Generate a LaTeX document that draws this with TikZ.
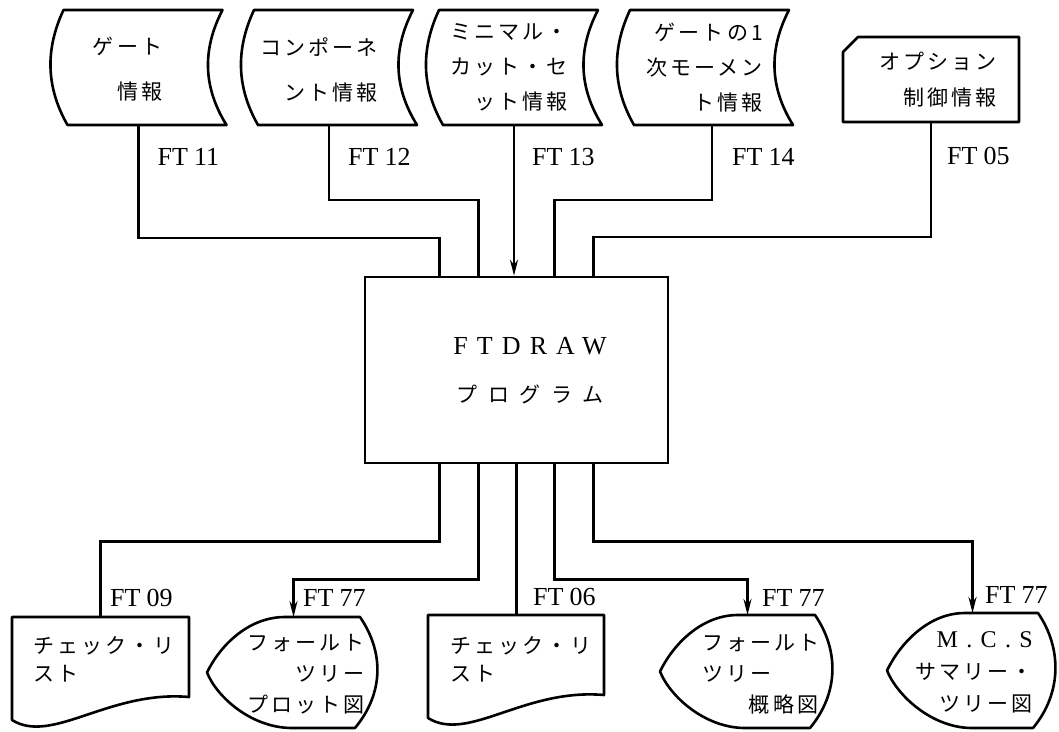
\documentclass[tikz,border=0pt]{standalone}
\usepackage{fontspec}
\setmainfont{Liberation Serif}
\newfontfamily\jpfont[LetterSpace=15]{Noto Sans CJK JP}
\newfontfamily\jpwider[LetterSpace=50]{Noto Sans CJK JP}
\newfontfamily\romwide[LetterSpace=35]{Liberation Serif}
\usetikzlibrary{arrows.meta, calc}

\begin{document}
\begin{tikzpicture}[
        x=1pt, y=-1pt,
        outline/.style={line width=2.6pt, line join=round},
        conn/.style={line width=2.4pt},
        arr/.style={conn, -{Stealth[length=16pt, width=8pt]}},
        stored/.style={minimum width=176pt, minimum height=115pt, inner sep=0pt, outer sep=0pt},
        card/.style={minimum width=176pt, minimum height=85pt, inner sep=0pt, outer sep=0pt},
        doc/.style={minimum width=177pt, minimum height=80pt, inner sep=0pt, outer sep=0pt},
        disp/.style={inner sep=0pt, outer sep=0pt},
        box/.style={draw, line width=2.6pt, minimum width=303pt, minimum height=186pt, inner sep=0pt},
        txt/.style={font=\jpfont\fontsize{21}{#1}\selectfont, inner sep=0pt},
        lbl/.style={font=\fontsize{26}{26}\selectfont, anchor=west, inner sep=0pt}
    ]
        \path[use as bounding box, fill=white] (0,0) rectangle (1059,731);

        % input files
        \node[stored] (gate)   at (138.5,67.5) {};
        \node[stored] (comp)   at (329,67.5) {};
        \node[stored] (mcut)   at (514,67.5) {};
        \node[stored] (moment) at (705,67.5) {};
        \node[card]   (opt)    at (931,79.5) {};
        \node[box]    (prog)   at (516.5,370) {};

        % output files
        \node[doc] (chk1) at (100.5,657) {};
        \node[disp, minimum width=173pt, minimum height=111pt] (plot) at (293.5,672.5) {};
        \node[doc, minimum width=176pt] (chk2) at (516,655) {};
        \node[disp, minimum width=175pt, minimum height=113pt] (sketch) at (747.5,671.5) {};
        \node[disp, minimum width=171pt, minimum height=115pt] (mcs) at (972.5,670.5) {};

        % outlines
        \foreach \n in {gate,comp,mcut,moment}
            \draw[outline] ($(\n.north west)+(13,0)$) -- ($(\n.north east)+(-4,0)$)
                .. controls ($(\n.east)+(-24,-19)$) and ($(\n.east)+(-24,19)$) .. (\n.south east)
                -- ($(\n.south west)+(17,0)$)
                .. controls ($(\n.west)+(-5,19)$) and ($(\n.west)+(-5,-19)$) .. ($(\n.north west)+(13,0)$) -- cycle;
        \draw[outline] ($(opt.north west)+(0,15)$) -- ($(opt.north west)+(15,0)$) -- (opt.north east)
            -- (opt.south east) -- (opt.south west) -- cycle;
        \foreach \n in {chk1,chk2}
            \draw[outline] ($(\n.south west)+(0,23)$) -- (\n.north west) -- (\n.north east) -- (\n.south east)
                .. controls ($(\n.south east)+(-80,-7)$) and ($(\n.south west)+(40,48)$) .. ($(\n.south west)+(0,23)$) -- cycle;
        \foreach \n in {plot,sketch,mcs}
            \draw[outline] ($(\n.north west)+(78,0)$) -- ($(\n.north east)+(-20,0)$)
                .. controls ($(\n.north east)+(4,35)$) and ($(\n.south east)+(4,-35)$) .. ($(\n.south east)+(-25,0)$)
                -- ($(\n.south west)+(85,0)$)
                .. controls ($(\n.south west)+(45,0)$) and ($(\n.west)+(10,25)$) .. (\n.west)
                .. controls ($(\n.west)+(12,-25)$) and ($(\n.north west)+(40,0)$) .. ($(\n.north west)+(78,0)$) -- cycle;

        % texts
        \node[txt=45, anchor=east, align=right] (gatetxt) at (163,69.5) {ゲ\,ー\,ト\\情\,報};
        \node[txt=45, anchor=east, align=right] (comptxt) at (378,69.5) {コンポーネ\\ント情報};
        \node[txt=35, anchor=east, align=right] (mcuttxt) at (568,67.5) {ミニマル・\\カット・セ\\ット情報};
        \node[txt=35, anchor=east, align=right] (momenttxt) at (763,67.5) {ゲートの1\\次モーメン\\ト情報};
        \node[txt=36, anchor=east, align=right] (opttxt) at (997,80) {オプション\\制御情報};
        \node[font=\fontsize{21}{48}\selectfont, align=center, inner sep=0pt] (progtxt) at (530,371)
            {{\romwide\fontsize{26}{26}\selectfont FTDRAW}\\{\jpwider プログラム}};
        \node[txt=28, anchor=west, align=left] (chk1txt) at (33,659) {チェック・リ\\スト};
        \node[txt=31, anchor=east, align=right] (plottxt) at (365,674) {フォールト\\ツリー\\プロット図};
        \node[txt=28, anchor=west, align=left] (chk2txt) at (450,659) {チェック・リ\\スト};
        \node[txt=31, anchor=west, align=left, text width=116pt] (sketchtxt) at (702,674)
            {フォールト\\ツリー\\\mbox{}\hskip0pt plus1fill 概略図};
        \node[txt=32, anchor=east, align=right] (mcstxt) at (1033,672.5)
            {{\romwide\fontsize{24}{24}\selectfont M.C.S}\\サマリー・\\ツリー図};

        % connectors
        \draw[conn] (gate.south) -- ++(0,113) -| ([xshift=-77pt]prog.north);
        \draw[conn] (comp.south) -- ++(0,75) -| ([xshift=-38pt]prog.north);
        \draw[arr]  (mcut.south) -- (mcut.south |- prog.north);
        \draw[conn] ([xshift=7pt]moment.south) -- ++(0,75) -| ([xshift=38pt]prog.north);
        \draw[conn] (opt.south) -- ++(0,115) -| ([xshift=77pt]prog.north);
        \draw[conn] ([xshift=-77pt]prog.south) -- ++(0,77) -| (chk1.north);
        \draw[arr]  ([xshift=-38pt]prog.south) -- ++(0,115) -| (plot.north);
        \draw[conn] (prog.south) -- (prog.south |- chk2.north);
        \draw[arr]  ([xshift=38pt]prog.south) -- ++(0,115) -| (sketch.north);
        \draw[arr]  ([xshift=77pt]prog.south) -- ++(0,77) -| (mcs.north);

        % file labels
        \node[lbl] (l11) at ($(gate.south)+(19,32)$) {FT\kern6pt 11};
        \node[lbl] (l12) at ($(comp.south)+(19,32)$) {FT\kern6pt 12};
        \node[lbl] (l13) at ($(mcut.south)+(18,32)$) {FT\kern6pt 13};
        \node[lbl] (l14) at ($(moment.south)+(27,32)$) {FT\kern6pt 14};
        \node[lbl] (l05) at ($(opt.south)+(16,34)$) {FT\kern6pt 05};
        \node[lbl] (l09) at ($(chk1.north)+(9.5,-19)$) {FT\kern6pt 09};
        \node[lbl] (l77a) at ($(plot.north)+(9.5,-19)$) {FT\kern6pt 77};
        \node[lbl] (l06) at ($(chk2.north)+(17,-18)$) {FT\kern6pt 06};
        \node[lbl] (l77b) at ($(sketch.north)+(14.5,-17)$) {FT\kern6pt 77};
        \node[lbl] (l77c) at ($(mcs.north)+(12.5,-18)$) {FT\kern6pt 77};
    \end{tikzpicture}
\end{document}
